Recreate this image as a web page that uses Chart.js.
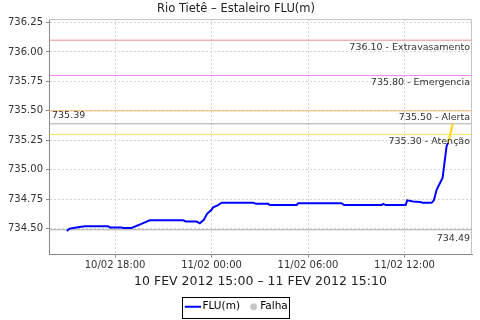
<!doctype html>
<html lang="pt">
<head>
<meta charset="utf-8">
<title>Rio Tietê – Estaleiro FLU(m)</title>
<style>
  body { margin: 0; background: #fff; }
  #wrap { width: 480px; height: 320px; position: relative; }
</style>
</head>
<body>
<div id="wrap"><canvas id="chart"></canvas></div>
<script src="https://cdn.jsdelivr.net/npm/chart.js"></script>
<script>
// horas contadas a partir de 10/02/2012 00:00
const hours = [
  15.00, 15.18, 15.60, 16.11, 17.56, 17.67, 18.40, 18.50, 19.02, 19.64,
  20.16, 22.23, 22.40, 23.07, 23.27, 23.52, 23.72, 24.00, 24.10, 24.41,
  24.62, 26.59, 26.76, 27.52, 27.63, 29.29, 29.39, 32.09, 32.24, 34.58,
  34.68, 34.83, 36.07, 36.17, 36.54, 36.96, 37.13, 37.69, 37.83, 38.00,
  38.31, 38.37, 38.62, 38.72, 39.00,
]
const levels = [
  734.48, 734.50, 734.51, 734.52, 734.52, 734.51, 734.51, 734.505, 734.505, 734.54,
  734.57, 734.57, 734.56, 734.56, 734.545, 734.575, 734.625, 734.66, 734.68, 734.70,
  734.72, 734.72, 734.71, 734.71, 734.70, 734.70, 734.715, 734.715, 734.70, 734.70,
  734.71, 734.70, 734.70, 734.74, 734.73, 734.725, 734.72, 734.72, 734.74, 734.83,
  734.915, 734.93, 735.20, 735.23, 735.39,
]

const limitValues = [736.10, 735.80, 735.50, 735.30]
const limitNames = ['Extravasamento', 'Emergencia', 'Alerta', 'Atenção']
const limitColors = ['#ee8e8e', '#f08af0', '#ffb46a', '#f3e34a']

const peakValue = 735.39
const lowValue = 734.49

const xTicks = [18, 24, 30, 36]
const yTicks = [734.50, 734.75, 735.00, 735.25, 735.50, 735.75, 736.00, 736.25]
const xMin = 13.89
const xMax = 40.2
const yMin = 734.28
const yMax = 736.28

const seriesLabel = 'FLU(m)'
const failLabel = 'Falha'
const chartTitle = 'Rio Tietê – Estaleiro FLU(m)'
const axisTitle = '10 FEV 2012 15:00 – 11 FEV 2012 15:10'

const pad2 = (n) => String(n).padStart(2, '0')
const fmtHour = (h) => pad2(10 + Math.floor(h / 24)) + '/02 ' + pad2(h % 24) + ':00'

// legend symbols
function lineSymbol() {
  const c = document.createElement('canvas')
  c.width = 20; c.height = 4
  const g = c.getContext('2d')
  g.fillStyle = '#0000ff'
  g.fillRect(4, 1, 16, 2)
  return c
}
function dotSymbol() {
  const c = document.createElement('canvas')
  c.width = 18; c.height = 8
  const g = c.getContext('2d')
  g.fillStyle = '#c4c4c4'
  g.beginPath(); g.arc(14.2, 4, 3.5, 0, Math.PI * 2); g.fill()
  return c
}

const flatLine = (v, color, i) => ({
  label: 'limite' + i,
  data: [{ x: xMin, y: v }, { x: xMax, y: v }],
  borderColor: color,
  borderWidth: 1,
  pointRadius: 0,
})

const datasets = [
  {
    label: seriesLabel,
    data: hours.map((h, i) => ({ x: h, y: levels[i] })),
    borderColor: '#0000ff',
    borderWidth: 2,
    pointRadius: 0,
    pointStyle: lineSymbol(),
    segment: {
      borderColor: (c) => (c.p1.parsed.y > limitValues[3] ? '#ffd400' : undefined),
    },
  },
  {
    label: failLabel,
    data: [],
    borderColor: '#c4c4c4',
    pointRadius: 0,
    pointStyle: dotSymbol(),
  },
  ...limitValues.map((v, i) => flatLine(v, limitColors[i], i)),
  flatLine(peakValue, '#a8a8a8', 4),
  flatLine(lowValue, '#a8a8a8', 5),
]

const extras = {
  id: 'extras',
  afterDatasetsDraw(chart) {
    const { ctx, chartArea: a, scales: { y } } = chart
    ctx.save()
    ctx.font = '9.5px "DejaVu Sans"'
    ctx.fillStyle = '#333'
    ctx.textBaseline = 'middle'
    ctx.textAlign = 'right'
    limitValues.forEach((v, i) => {
      ctx.fillText(v.toFixed(2) + ' - ' + limitNames[i], a.right - 2, y.getPixelForValue(v) + 7)
    })
    ctx.fillText(lowValue.toFixed(2), a.right - 2, y.getPixelForValue(lowValue) + 9)
    ctx.textAlign = 'left'
    ctx.fillText(peakValue.toFixed(2), a.left + 3, y.getPixelForValue(peakValue) - 8)
    ctx.strokeStyle = '#c4c4c4'
    ctx.lineWidth = 1
    ctx.beginPath()
    ctx.moveTo(a.left, a.top + 0.5)
    ctx.lineTo(a.right - 0.5, a.top + 0.5)
    ctx.lineTo(a.right - 0.5, a.bottom)
    ctx.stroke()
    ctx.restore()
  },
  afterDraw(chart) {
    const boxes = chart.legend.legendHitBoxes
    if (!boxes || !boxes.length) return
    const { ctx } = chart
    const l = Math.min(...boxes.map((b) => b.left)) - 2
    const r = Math.max(...boxes.map((b) => b.left + b.width)) + 2
    const t = boxes[0].top - 5
    const b = boxes[0].top + boxes[0].height + 5
    ctx.save()
    ctx.strokeStyle = '#000'
    ctx.lineWidth = 1
    ctx.strokeRect(Math.round(l) + 0.5, Math.round(t) + 0.5, Math.round(r - l), Math.round(b - t))
    ctx.restore()
  },
}

Chart.defaults.font.family = '"DejaVu Sans", sans-serif'
Chart.defaults.color = '#333'

new Chart(document.getElementById('chart'), {
  type: 'line',
  data: { datasets },
  options: {
    animation: false,
    responsive: true,
    maintainAspectRatio: false,
    layout: { padding: { left: 0, right: 8, top: 0, bottom: -2 } },
    plugins: {
      title: {
        display: true,
        text: chartTitle,
        color: '#222',
        font: { size: 11.5, weight: 'normal' },
        padding: { top: 2, bottom: 3.2 },
      },
      legend: {
        position: 'bottom',
        labels: {
          usePointStyle: true,
          pointStyleWidth: 13,
          padding: 2,
          color: '#000',
          font: { size: 10.5 },
          filter: (item) => item.datasetIndex < 2,
        },
      },
      tooltip: { enabled: false },
    },
    scales: {
      x: {
        type: 'linear',
        min: xMin,
        max: xMax,
        afterBuildTicks: (s) => { s.ticks = xTicks.map((v) => ({ value: v })) },
        afterFit: (s) => { s.height = 45 },
        ticks: {
          padding: 2,
          maxRotation: 0,
          color: '#333',
          font: { size: 10 },
          callback: (v) => fmtHour(v),
        },
        grid: {
          color: '#d4d4d4',
          borderDash: [2, 2],
          tickColor: '#888',
          tickLength: 3,
          tickBorderDash: [],
        },
        border: { color: '#888', dash: [2, 2] },
        title: {
          display: true,
          text: axisTitle,
          color: '#222',
          font: { size: 12.5 },
          padding: { top: 2, bottom: 10.5 },
        },
      },
      y: {
        min: yMin,
        max: yMax,
        afterBuildTicks: (s) => { s.ticks = yTicks.map((v) => ({ value: v })) },
        afterFit: (s) => { s.width = 49 },
        ticks: {
          padding: 3,
          color: '#333',
          font: { size: 10 },
          callback: (v) => v.toFixed(2),
        },
        grid: {
          color: '#d4d4d4',
          tickColor: '#888',
          tickLength: 3,
          tickBorderDash: [],
        },
        border: { color: '#888', dash: [2, 2] },
      },
    },
  },
  plugins: [extras],
})
</script>
</body>
</html>
